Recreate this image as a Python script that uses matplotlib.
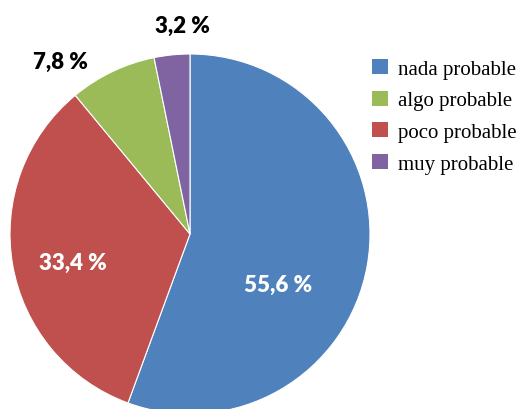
import matplotlib.pyplot as plt
from matplotlib.patches import Patch

# slices in drawing order (clockwise from 12 o'clock)
categories = ["nada probable", "poco probable", "algo probable", "muy probable"]
values = [55.6, 33.4, 7.8, 3.2]
colors = ["#4F81BD", "#C0504D", "#9BBB59", "#8064A2"]
label_text = ["55,6 %", "33,4 %", "7,8 %", "3,2 %"]
label_color = ["white", "white", "black", "black"]
# label positions in pie-radius units
label_pos = [(0.49, -0.28), (-0.65, -0.16), (-0.72, 0.96), (-0.04, 1.16)]

legend_order = ["nada probable", "algo probable", "poco probable", "muy probable"]

W, H = 523, 410
fig = plt.figure(figsize=(W / 100, H / 100), dpi=100)
cx, cy, r = 190, 175, 180  # pixel centre (from bottom) and radius
ax = fig.add_axes([(cx - r) / W, (cy - r) / H, 2 * r / W, 2 * r / H])

ax.pie(values, colors=colors, startangle=90, counterclock=False, radius=1,
       wedgeprops=dict(edgecolor="white", linewidth=0.8), frame=True)
ax.set_xlim(-1, 1)
ax.set_ylim(-1, 1)
ax.axis("off")

for t, (x, y), c in zip(label_text, label_pos, label_color):
    ax.text(x, y, t, ha="center", va="center", color=c, fontsize=16,
            fontweight="heavy", family="Lato", clip_on=False)

handles = [Patch(facecolor=colors[categories.index(n)], label=n) for n in legend_order]
fig.legend(handles=handles, loc="upper left", bbox_to_anchor=(372 / W, 1 - 60 / H),
           frameon=False, prop={"family": "Liberation Serif", "size": 15},
           handlelength=0.75, handleheight=0.75, handletextpad=0.5, labelspacing=0.56,
           borderpad=0, borderaxespad=0)

fig.savefig("out.png", dpi=100)
